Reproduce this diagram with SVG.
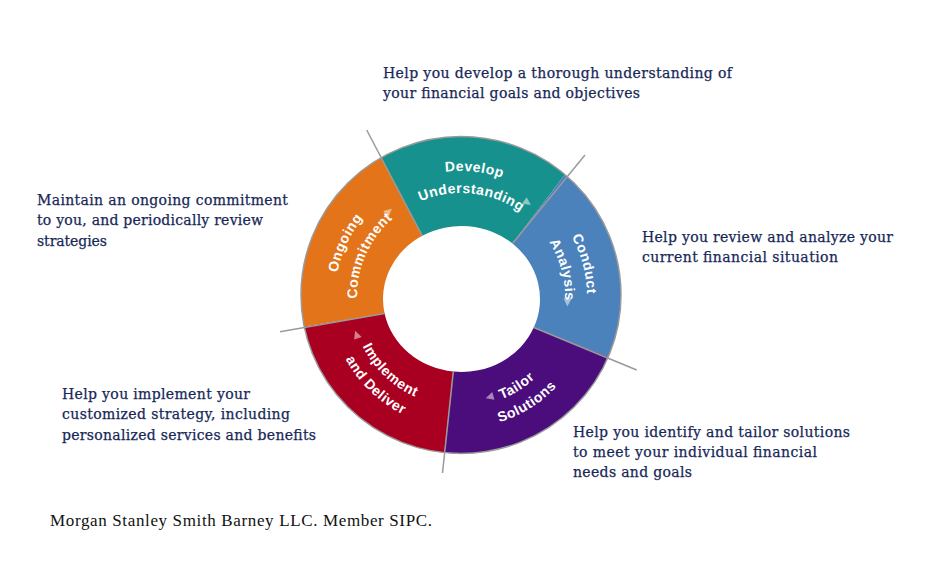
<svg xmlns="http://www.w3.org/2000/svg" width="932" height="570" viewBox="0 0 932 570">
<style>
.desc{font-family:"DejaVu Serif","Liberation Serif",serif;font-size:14px;fill:#172857;stroke:#172857;stroke-width:0.25}
.lbl{font-family:"Liberation Sans",Arial,sans-serif;font-size:14px;font-weight:bold;fill:#ffffff;letter-spacing:0.5px}
.sep{stroke:#9a9a9a;stroke-width:1.5;fill:none}
.arw{fill:#ffffff;fill-opacity:0.5}
</style>
<defs>
<path id="pDev" d="M359.06,222.94 A126,126 0 0 1 576.11,245.75"/>
<path id="pUnd" d="M376.86,235.87 A104,104 0 0 1 556.01,254.70"/>
<path id="pCon" d="M493.61,175.29 A126,126 0 0 1 550.10,386.10"/>
<path id="pAna" d="M487.92,196.54 A104,104 0 0 1 534.54,370.54"/>
<path id="pTai" d="M409.36,394.12 A110,110 0 0 0 570.93,293.16"/>
<path id="pSol" d="M399.50,412.67 A131,131 0 0 0 591.92,292.43"/>
<path id="pImp" d="M354.27,270.39 A110,110 0 0 0 491.32,402.74"/>
<path id="pDel" d="M333.89,265.31 A131,131 0 0 0 497.11,422.93"/>
<path id="pOng" d="M357.79,369.27 A126,126 0 0 1 450.02,171.48"/>
<path id="pCom" d="M376.86,358.13 A104,104 0 0 1 450.13,193.57"/>
<path id="tri" d="M4.5,0 L-3.5,-4 L-3.5,4 Z"/>
</defs>
<rect width="932" height="570" fill="#ffffff"/>

<g id="seg-develop">
<path d="M422.25,235.78 L381.00,157.74 A160,158.5 0 0 1 564.91,174.47 L512.48,243.49 A78.5,73 0 0 0 422.25,235.78 Z" fill="#17918d"/>
<text class="lbl"><textPath href="#pDev" startOffset="50%" text-anchor="middle">Develop</textPath></text>
<text class="lbl"><textPath href="#pUnd" startOffset="50%" text-anchor="middle">Understanding</textPath></text>
<use href="#tri" class="arw" transform="translate(527.2,202.5) rotate(34.8)"/>
</g>
<g id="seg-conduct">
<path d="M512.48,243.49 L564.91,174.47 A160,158.5 0 0 1 608.28,356.93 L533.76,327.52 A78.5,73 0 0 0 512.48,243.49 Z" fill="#4b82bc"/>
<text class="lbl"><textPath href="#pCon" startOffset="50%" text-anchor="middle">Conduct</textPath></text>
<text class="lbl"><textPath href="#pAna" startOffset="50%" text-anchor="middle">Analysis</textPath></text>
<use href="#tri" class="arw" transform="translate(567.5,302) rotate(91.6)"/>
</g>
<g id="seg-tailor">
<path d="M533.76,327.52 L608.28,356.93 A160,158.5 0 0 1 444.28,452.63 L453.29,371.60 A78.5,73 0 0 0 533.76,327.52 Z" fill="#4b0c7c"/>
<text class="lbl"><textPath href="#pTai" startOffset="50%" text-anchor="middle">Tailor</textPath></text>
<text class="lbl"><textPath href="#pSol" startOffset="50%" text-anchor="middle">Solutions</textPath></text>
<use href="#tri" class="arw" transform="translate(490.01,396.87) rotate(163.8)"/>
</g>
<g id="seg-implement">
<path d="M453.29,371.60 L444.28,452.63 A160,158.5 0 0 1 304.21,326.60 L384.58,313.55 A78.5,73 0 0 0 453.29,371.60 Z" fill="#a90022"/>
<text class="lbl"><textPath href="#pImp" startOffset="50%" text-anchor="middle">Implement</textPath></text>
<text class="lbl"><textPath href="#pDel" startOffset="50%" text-anchor="middle">and Deliver</textPath></text>
<use href="#tri" class="arw" transform="translate(356.69,334.96) rotate(250)"/>
</g>
<g id="seg-ongoing">
<path d="M384.58,313.55 L304.21,326.60 A160,158.5 0 0 1 381.00,157.74 L422.25,235.78 A78.5,73 0 0 0 384.58,313.55 Z" fill="#e3741a"/>
<text class="lbl"><textPath href="#pOng" startOffset="50%" text-anchor="middle">Ongoing</textPath></text>
<text class="lbl"><textPath href="#pCom" startOffset="50%" text-anchor="middle">Commitment</textPath></text>
<use href="#tri" class="arw" transform="translate(388.41,211.71) rotate(319.6)"/>
</g>

<g id="connectors">
<ellipse cx="461" cy="295" rx="160" ry="158.5" class="sep" stroke-width="1.2"/>
<line class="sep" x1="422.25" y1="235.78" x2="366.7" y2="130"/>
<line class="sep" x1="512.48" y1="243.49" x2="585" y2="155"/>
<line class="sep" x1="533.76" y1="327.52" x2="636.7" y2="370"/>
<line class="sep" x1="453.29" y1="371.60" x2="442.5" y2="473"/>
<line class="sep" x1="384.58" y1="313.55" x2="280" y2="331.7"/>
</g>

<g id="desc-develop">
<text class="desc" x="383" y="78" textLength="349" lengthAdjust="spacing">Help you develop a thorough understanding of</text>
<text class="desc" x="383" y="98" textLength="257" lengthAdjust="spacing">your financial goals and objectives</text>
</g>
<g id="desc-ongoing">
<text class="desc" x="37" y="205" textLength="251" lengthAdjust="spacing">Maintain an ongoing commitment</text>
<text class="desc" x="37" y="225" textLength="226" lengthAdjust="spacing">to you, and periodically review</text>
<text class="desc" x="37" y="246" textLength="70" lengthAdjust="spacing">strategies</text>
</g>
<g id="desc-conduct">
<text class="desc" x="642" y="242" textLength="251" lengthAdjust="spacing">Help you review and analyze your</text>
<text class="desc" x="642" y="262" textLength="196" lengthAdjust="spacing">current financial situation</text>
</g>
<g id="desc-implement">
<text class="desc" x="62" y="399" textLength="188" lengthAdjust="spacing">Help you implement your</text>
<text class="desc" x="62" y="419" textLength="228" lengthAdjust="spacing">customized strategy, including</text>
<text class="desc" x="62" y="440" textLength="254" lengthAdjust="spacing">personalized services and benefits</text>
</g>
<g id="desc-tailor">
<text class="desc" x="573" y="437" textLength="277" lengthAdjust="spacing">Help you identify and tailor solutions</text>
<text class="desc" x="573" y="457" textLength="244" lengthAdjust="spacing">to meet your individual financial</text>
<text class="desc" x="573" y="477" textLength="119" lengthAdjust="spacing">needs and goals</text>
</g>
<g id="footer">
<text x="50" y="526" font-family="'Liberation Serif','Times New Roman',serif" font-size="17" fill="#111111" textLength="382" lengthAdjust="spacing">Morgan Stanley Smith Barney LLC. Member SIPC.</text>
</g>
</svg>
